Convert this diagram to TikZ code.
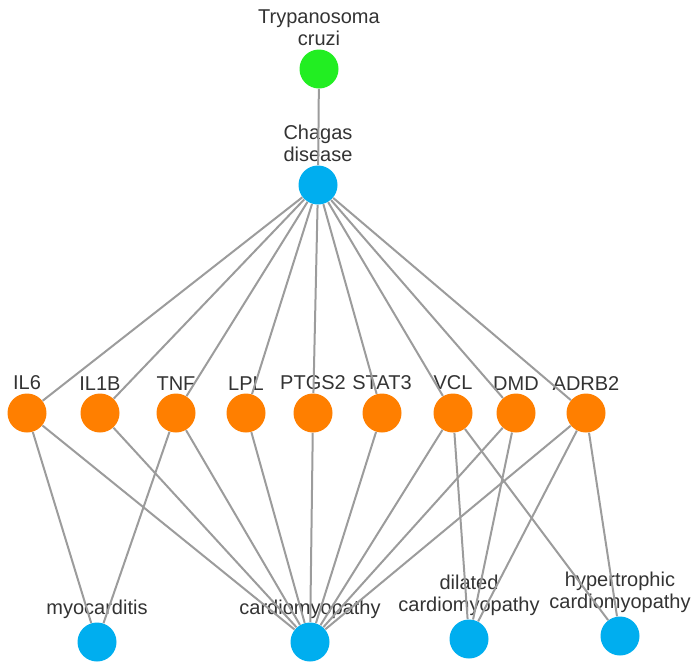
\documentclass[tikz,border=0pt]{standalone}
\usepackage{fontspec}
\setmainfont{Liberation Sans}
\usepackage{tikz}
\definecolor{diseaseblue}{HTML}{00AEEF}
\definecolor{geneorange}{HTML}{FF7F00}
\definecolor{parasitegreen}{HTML}{22EE22}
\definecolor{edgegray}{HTML}{9C9C9C}
\tikzset{vertex/.style={circle,fill=#1,minimum size=19.5pt,inner sep=0pt}}
\tikzset{link/.style={draw=edgegray,line width=1pt}}
\tikzset{every label/.append style={align=center,text=black!80,font=\fontsize{10}{11}\selectfont}}

\begin{document}
\begin{tikzpicture}[x=0.5pt,y=-0.5pt,label distance=-2pt]
        \useasboundingbox (0,0) rectangle (700,671);
        \node(Tc)[vertex=parasitegreen,label=above:{Trypanosoma\\cruzi}] at (319,69) {};
        \node(Chagas)[vertex=diseaseblue,label=above:{Chagas\\disease}] at (318,185) {};
        \node(IL6)[vertex=geneorange,label=above:IL6] at (27,413) {};
        \node(IL1B)[vertex=geneorange,label=above:IL1B] at (100,413) {};
        \node(TNF)[vertex=geneorange,label=above:TNF] at (176,413) {};
        \node(LPL)[vertex=geneorange,label=above:LPL] at (246,413) {};
        \node(PTGS2)[vertex=geneorange,label=above:PTGS2] at (313,413) {};
        \node(STAT3)[vertex=geneorange,label=above:STAT3] at (382,413) {};
        \node(VCL)[vertex=geneorange,label=above:VCL] at (453,413) {};
        \node(DMD)[vertex=geneorange,label=above:DMD] at (516,413) {};
        \node(ADRB2)[vertex=geneorange,label=above:ADRB2] at (586,413) {};
        \node(myo)[vertex=diseaseblue,label=above:myocarditis] at (97,642) {};
        \node(cm)[vertex=diseaseblue,label=above:cardiomyopathy] at (310,642) {};
        \node(dcm)[vertex=diseaseblue,label=above:{dilated\\cardiomyopathy}] at (469,639) {};
        \node(hcm)[vertex=diseaseblue,label=above:{hypertrophic\\cardiomyopathy}] at (620,636) {};
        \draw[link]
        (Tc) edge (Chagas)
        (Chagas) edge (IL6) edge (IL1B) edge (TNF) edge (LPL) edge (PTGS2)
        edge (STAT3) edge (VCL) edge (DMD) edge (ADRB2)
        (IL6) edge (myo) edge (cm)
        (IL1B) edge (cm)
        (TNF) edge (myo) edge (cm)
        (LPL) edge (cm)
        (PTGS2) edge (cm)
        (STAT3) edge (cm)
        (VCL) edge (cm) edge (dcm) edge (hcm)
        (DMD) edge (cm) edge (dcm)
        (ADRB2) edge (cm) edge (dcm) edge (hcm);
      \end{tikzpicture}
\end{document}
